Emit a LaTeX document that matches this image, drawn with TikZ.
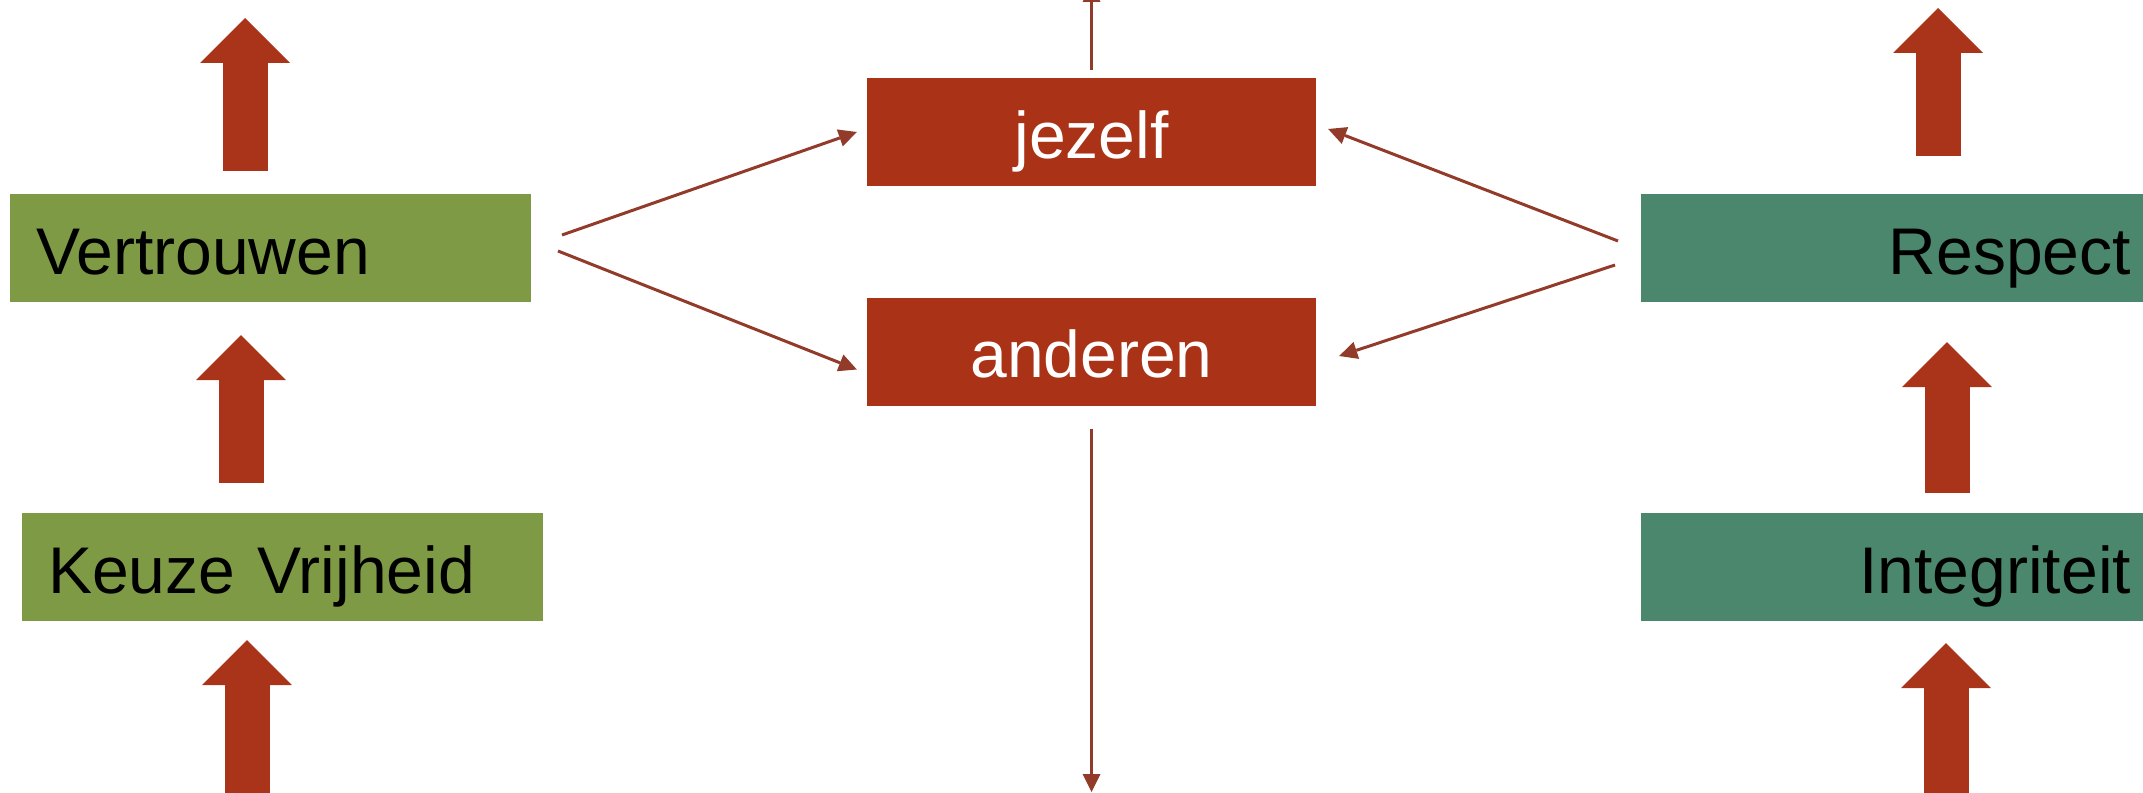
\documentclass[tikz,border=0pt]{standalone}
\usepackage{fontspec}
\setmainfont{Liberation Sans}
\usetikzlibrary{arrows.meta,calc}
\definecolor{cOlive}{HTML}{7E9A45}
\definecolor{cTeal}{HTML}{4A876D}
\definecolor{cRed}{HTML}{A93217}
\definecolor{cArrow}{HTML}{A93419}
\definecolor{cLine}{HTML}{923B2A}
\begin{document}
\begin{tikzpicture}[x=1pt,y=-1pt,
  box/.style={rectangle, inner ysep=0pt, text height=52pt, text depth=0pt,
    minimum height=108pt, font=\fontsize{66}{72}\selectfont},
  greenbox/.style={box, fill=cOlive, text=black, inner xsep=26pt, text width=469pt, align=left},
  tealbox/.style={box, fill=cTeal, text=black, inner xsep=31pt, text width=459pt, align=right},
  redbox/.style={box, fill=cRed, text=white, inner xsep=0pt, minimum width=449pt},
  blockarrow/.style={draw=cArrow, line width=45pt,
    -{Triangle[length=45pt,width=90pt,line width=0pt]}},
  link/.style={draw=cLine, line width=3pt,
    -{Triangle[length=18pt,width=18pt,line width=0pt]}}
]
\useasboundingbox (0,0) rectangle (2143,792);

% boxes
\node[greenbox] (vert)  at (270.5,248) {Vertrouwen};
\node[greenbox] (keuze) at (282.5,567) {Keuze Vrijheid};
\node[redbox]   (jez)   at (1091.5,132) {jezelf};
\node[redbox]   (and)   at (1091.5,351.5) {anderen};
\node[tealbox]  (resp)  at (1901.5,248) {Respect};
\node[tealbox]  (integ) at (1901.5,567) {Integriteit};

% free ends
\coordinate (lt) at (245,18);
\coordinate (lm) at (241,0);
\coordinate (lb) at (247,800);
\coordinate (rt) at (1938,8);
\coordinate (rm) at (1947,0);
\coordinate (rb) at (1946,800);
\coordinate (topc) at (1091.5,-16);
\coordinate (botc) at (1091.5,792);
\coordinate (v1) at (562,235);
\coordinate (v2) at (558,251);
\coordinate (r1) at (1618,241);
\coordinate (r2) at (1615,265);

% block arrows, left column
\draw[blockarrow, shorten <=23pt] (lt |- vert.north) -- (lt);
\draw[blockarrow, shorten <=30pt, shorten >=33pt] (lm |- keuze.north) -- (lm |- vert.south);
\draw[blockarrow, shorten >=19pt] (lb) -- (lb |- keuze.south);

% block arrows, right column
\draw[blockarrow, shorten <=38pt] (rt |- resp.north) -- (rt);
\draw[blockarrow, shorten <=20pt, shorten >=40pt] (rm |- integ.north) -- (rm |- resp.south);
\draw[blockarrow, shorten >=22pt] (rb) -- (rb |- integ.south);

% thin connectors
\draw[link] (v1) -- ($(jez.west)+(-10,0)$);
\draw[link] (v2) -- ($(and.west)+(-10,18)$);
\draw[link] (r1) -- ($(jez.east)+(12,-3)$);
\draw[link] (r2) -- ($(and.east)+(23,4.5)$);
\draw[link, shorten <=8pt] (jez.north) -- (topc);
\draw[link, shorten <=23pt] (and.south) -- (botc);
\end{tikzpicture}
\end{document}
